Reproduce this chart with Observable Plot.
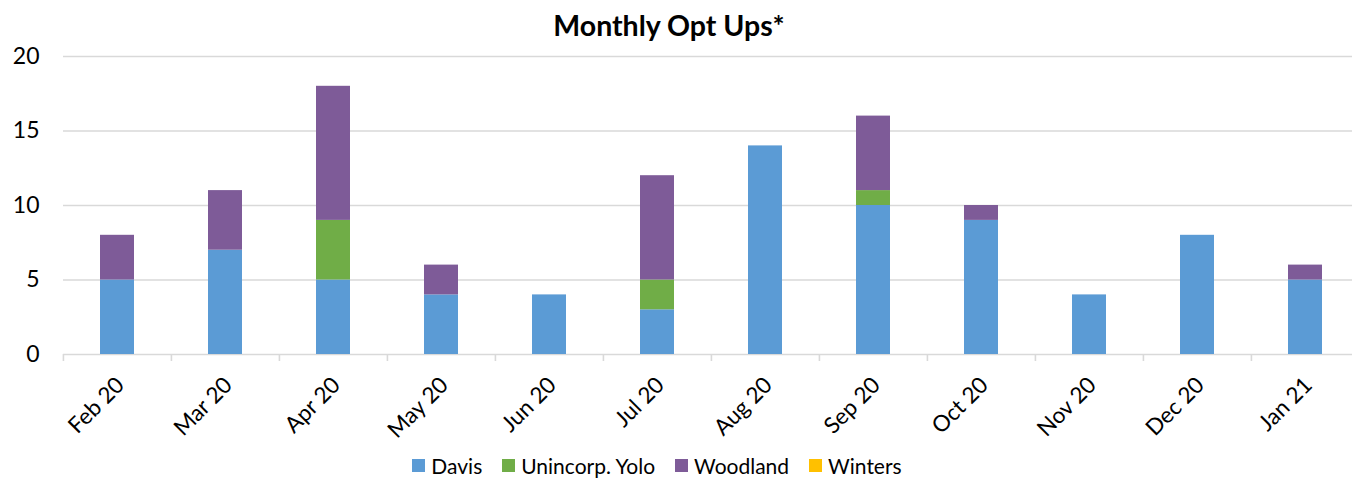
<!DOCTYPE html>
<html><head><meta charset="utf-8">
<script src="https://cdn.jsdelivr.net/npm/d3@7"></script>
<script src="https://cdn.jsdelivr.net/npm/@observablehq/plot@0.6"></script>
<style>
body{margin:0;background:#fff;font-family:Lato,"Open Sans",sans-serif;width:1352px;height:479px;overflow:hidden}
#title{height:48px;line-height:50px;text-align:center;font-weight:bold;font-size:28.5px;color:#000;padding-right:14px}
#chart{height:392px}
#legend{height:39px;display:flex;justify-content:center;align-items:center;font-size:21px;color:#000;padding-right:38px;padding-top:12px;box-sizing:border-box}
.item{display:flex;align-items:center;margin:0 10px}
.sw{width:13px;height:13px;margin-right:6px}
</style></head>
<body>
<div id="title">Monthly Opt Ups*</div>
<div id="chart"></div>
<div id="legend"></div>
<script>
const months = ["Feb 20","Mar 20","Apr 20","May 20","Jun 20","Jul 20","Aug 20","Sep 20","Oct 20","Nov 20","Dec 20","Jan 21"];
const series = ["Davis","Unincorp. Yolo","Woodland","Winters"];
const davis    = [5,7,5,4,4,3,14,10,9,4,8,5];
const unincorp = [0,0,4,0,0,2,0,1,0,0,0,0];
const woodland = [3,4,9,2,0,7,0,5,1,0,0,1];
const winters  = [0,0,0,0,0,0,0,0,0,0,0,0];
const colors = ["#5b9bd5","#70ad47","#7e5b98","#ffc000"];
const yTicks = [0,5,10,15,20];

const values = [davis, unincorp, woodland, winters];
const data = [];
series.forEach((s, si) => months.forEach((m, mi) => data.push({month: m, series: s, value: values[si][mi]})));

const chart = Plot.plot({
  width: 1352,
  height: 392,
  marginTop: 8,
  marginBottom: 86,
  marginLeft: 63,
  marginRight: 0,
  style: {fontFamily: "Lato, 'Open Sans', sans-serif", color: "#000", background: "#fff", overflow: "visible"},
  x: {domain: months, range: [63, 1360], paddingInner: 0.685, paddingOuter: 0.3425, label: null},
  y: {domain: [0, 20], label: null},
  color: {domain: series, range: colors},
  marks: [
    Plot.gridY(yTicks, {stroke: "#d9d9d9", strokeOpacity: 1, strokeWidth: 1.6}),
    Plot.barY(data, {x: "month", y: "value", fill: "series", order: series}),
    Plot.axisX({tickSize: 7, tickFormat: () => "", dx: -54.08, stroke: "#d9d9d9", strokeWidth: 1.6, strokeOpacity: 1}),
    Plot.axisX({tickSize: 0, tickRotate: -45, tickPadding: 27, fontSize: 22.5, dx: 3}),
    Plot.axisY(yTicks, {tickSize: 0, tickPadding: 24, fontSize: 23})
  ]
});
document.getElementById("chart").appendChild(chart);

const legend = document.getElementById("legend");
series.forEach((s, i) => {
  const it = document.createElement("div");
  it.className = "item";
  it.innerHTML = `<div class="sw" style="background:${colors[i]}"></div><span>${s}</span>`;
  legend.appendChild(it);
});
</script>
</body></html>
